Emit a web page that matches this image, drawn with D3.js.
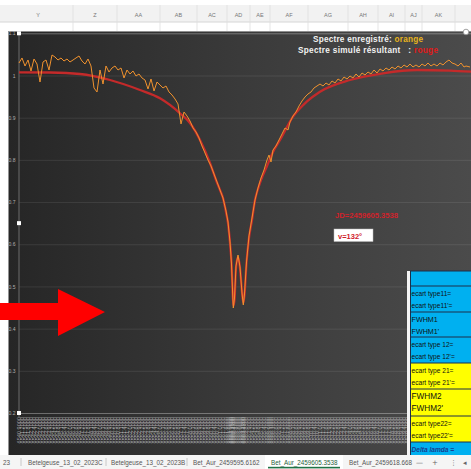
<!DOCTYPE html>
<html><head><meta charset="utf-8">
<script src="https://cdn.jsdelivr.net/npm/d3@7"></script>
<style>html,body{margin:0;padding:0;background:#fff;overflow:hidden}svg{display:block}text{white-space:pre}</style>
</head><body><svg id="c" width="471" height="469"></svg>
<script>
// Hα profile, Bet_Aur_2459605.3538 — recorded spectrum [wavelength Å, normalised flux]
const observed = [
[6540.9,1.0296],[6541.2,1.0415],[6541.5,1.0225],[6541.8,1.0367],[6542.1,1.0107],[6542.4,1.0391],[6542.7,1.0272],[6543.0,0.9846],
[6543.3,1.0320],[6543.6,1.0367],[6543.9,1.0130],[6544.2,1.0486],[6544.5,1.0438],[6544.8,1.0367],[6545.1,1.0415],[6545.4,1.0343],
[6545.7,1.0391],[6546.0,1.0320],[6546.3,1.0367],[6546.6,1.0415],[6546.9,1.0462],[6547.2,1.0343],[6547.5,1.0272],[6547.8,1.0391],
[6548.1,1.0225],[6548.4,0.9704],[6548.7,0.9609],[6549.0,1.0130],[6549.3,0.9798],[6549.6,1.0225],[6549.9,1.0083],[6550.2,1.0178],
[6550.5,1.0225],[6550.8,1.0130],[6551.1,1.0178],[6551.4,0.9941],[6551.7,1.0130],[6552.0,1.0035],[6552.3,1.0107],[6552.6,0.9988],
[6552.9,1.0035],[6553.2,0.9941],[6553.5,0.9893],[6553.8,0.9680],[6554.1,0.9917],[6554.4,0.9633],[6554.7,0.9846],[6555.0,0.9775],
[6555.3,0.9704],[6555.6,0.9751],[6555.9,0.9609],[6556.2,0.9538],[6556.5,0.9443],[6556.8,0.9325],[6557.1,0.8851],[6557.4,0.9135],
[6557.7,0.9040],[6558.0,0.8922],[6558.3,0.8756],[6558.6,0.8661],[6558.9,0.8519],[6559.2,0.8329],[6559.5,0.8163],[6559.8,0.7997],
[6560.1,0.7855],[6560.4,0.7665],[6560.7,0.7476],[6561.0,0.7286],[6561.3,0.7096],[6561.6,0.6788],[6561.8,0.6527],[6562.0,0.6054],
[6562.15,0.5532],[6562.25,0.4916],[6562.33,0.4489],[6562.45,0.4726],[6562.6,0.5485],[6562.8,0.5745],[6563.0,0.5461],[6563.2,0.4844],
[6563.33,0.4560],[6563.45,0.4821],[6563.65,0.5580],[6563.9,0.6196],[6564.2,0.6622],[6564.5,0.7049],[6564.8,0.7333],[6565.1,0.7570],
[6565.4,0.7760],[6565.7,0.7997],[6565.9,0.8115],[6566.1,0.7950],[6566.3,0.8234],[6566.6,0.8329],[6566.9,0.8471],[6567.2,0.8614],
[6567.5,0.8756],[6567.8,0.8708],[6568.0,0.8898],[6568.3,0.9040],[6568.6,0.9135],[6568.9,0.9277],[6569.2,0.9396],[6569.5,0.9490],
[6569.8,0.9562],[6570.1,0.9609],[6570.4,0.9704],[6570.7,0.9751],[6571.0,0.9798],[6571.3,0.9751],[6571.6,0.9822],[6571.9,0.9775],
[6572.2,0.9870],[6572.5,0.9822],[6572.8,0.9917],[6573.1,0.9870],[6573.4,0.9964],[6573.7,0.9917],[6574.0,0.9988],[6574.3,0.9941],
[6574.6,1.0035],[6574.9,0.9964],[6575.2,1.0059],[6575.5,1.0012],[6575.8,1.0083],[6576.1,1.0035],[6576.4,1.0130],[6576.7,1.0059],
[6577.0,1.0154],[6577.3,1.0107],[6577.6,1.0178],[6577.9,1.0130],[6578.2,1.0201],[6578.5,1.0154],[6578.8,1.0225],[6579.1,1.0178],
[6579.4,1.0249],[6579.7,1.0201],[6580.0,1.0272],[6580.3,1.0201],[6580.6,1.0249],[6580.9,1.0201],[6581.2,1.0272],[6581.5,1.0225],
[6581.8,1.0296],[6582.1,1.0225],[6582.4,1.0272],[6582.7,1.0225],[6583.0,1.0296],[6583.3,1.0249],[6583.6,1.0320],[6583.9,1.0367],
[6584.2,1.0296],[6584.5,1.0272],[6584.8,1.0225],[6585.1,1.0296],[6585.4,1.0201],[6585.6,1.0225],[6586.0,1.0201]
];

// resulting simulated spectrum (two-component fit)
const simulated = [
[6540.9,1.0076],[6544.0,1.0071],[6547.0,1.0035],[6550.0,0.9893],[6553.0,0.9656],[6555.0,0.9459],[6557.0,0.9104],[6558.0,0.8874],
[6559.0,0.8471],[6560.0,0.7926],[6560.6,0.7523],[6561.0,0.7286],[6561.3,0.7096],[6561.6,0.6764],[6561.8,0.6504],[6562.0,0.6030],
[6562.15,0.5556],[6562.25,0.4963],[6562.33,0.4536],[6562.45,0.4679],[6562.6,0.5437],[6562.8,0.5698],[6563.0,0.5437],[6563.2,0.4868],
[6563.33,0.4608],[6563.45,0.4797],[6563.65,0.5556],[6563.9,0.6149],[6564.2,0.6575],[6564.5,0.7049],[6564.8,0.7310],[6565.1,0.7523],
[6565.67,0.7838],[6566.3,0.8187],[6567.0,0.8471],[6568.3,0.9023],[6569.67,0.9379],[6571.0,0.9616],[6574.0,0.9893],[6577.3,1.0052],
[6580.7,1.0130],[6584.0,1.0114],[6586.1,1.0090]
];

const yTicks = [0.2,0.3,0.4,0.5,0.6,0.7,0.8,0.9,1.0,1.1];
const legendRecorded = ["Spectre enregistré: ", "orange"];
const legendSimulated = ["Spectre simulé résultant   : ", "rouge"];
const jdLabel = "JD=2459605.3538";
const velocityLabel = "v=132°";

const columnNames = ["Y","Z","AA","AB","AC","AD","AE","AF","AG","AH","AI","AJ","AK"];
const tableBlue1 = [["ecart type11=","ecart type11'="],["FWHM1","FWHM1'"],["ecart type 12=","ecart type 12'="]];
const tableYellow = [["ecart type 21=","ecart type 21'="],["FWHM2","FWHM2'"],["ecart type22=","ecart type22'="]];
const tableLast = "Delta lamda =";
const sheetTabs = ["23","Betelgeuse_13_02_2023C","Betelgeuse_13_02_2023B","Bet_Aur_2459595.6162","Bet_Aur_2459605.3538","Bet_Aur_2459618.668"];
const activeTab = "Bet_Aur_2459605.3538";

// ---- layout ----
const W = 471, H = 469;
const plot = {left: 19, right: 471, top: 33.3, bottom: 413};
const colEdges = [3,73,117,160,197,227,250,270,308,348,378,405,422,455,471];
const tabX = [3,28,111,193,271,349];

const svg = d3.select("#c");
const defs = svg.append("defs");
const grad = defs.append("linearGradient").attr("id","bg").attr("x1","0").attr("x2","1").attr("y1","0").attr("y2","0");
grad.append("stop").attr("offset","0").attr("stop-color","#262626");
grad.append("stop").attr("offset","0.5").attr("stop-color","#3a3a3a");
grad.append("stop").attr("offset","1").attr("stop-color","#4b4b4b");

svg.append("rect").attr("width",W).attr("height",H).attr("fill","#fff");

// spreadsheet column header
svg.append("rect").attr("x",0).attr("y",5).attr("width",W).attr("height",17).attr("fill","#f2f2f2");
svg.append("line").attr("x1",0).attr("x2",W).attr("y1",22).attr("y2",22).attr("stroke","#d6d6d6");
colEdges.slice(1,-1).forEach(e=>{
  svg.append("line").attr("x1",e).attr("x2",e).attr("y1",5).attr("y2",31).attr("stroke","#dedede").attr("stroke-width",0.8);
});
columnNames.forEach((n,i)=>{
  svg.append("text").attr("x",(colEdges[i]+colEdges[i+1])/2).attr("y",16.5).attr("text-anchor","middle")
    .attr("font-family","Liberation Sans, Arial, sans-serif").attr("font-size",5.5).attr("fill","#777").text(n);
});

// chart area
svg.append("rect").attr("x",8.5).attr("y",31).attr("width",W-8.5).attr("height",424).attr("fill","url(#bg)");
svg.append("line").attr("x1",8.5).attr("x2",W).attr("y1",31.5).attr("y2",31.5).attr("stroke","#8e8e8e").attr("stroke-width",1);

const x = d3.scaleLinear().domain([6540.9, 6586.1]).range([plot.left, plot.right]);
const y = d3.scaleLinear().domain([0.2, 1.1]).range([plot.bottom, plot.top]);

// gridlines + y labels
const yAxis = svg.append("g").attr("transform",`translate(${plot.left},0)`)
  .call(d3.axisLeft(y).tickValues(yTicks).tickSize(-(plot.right-plot.left)).tickPadding(3.5).tickFormat(d3.format("~g")));
yAxis.select(".domain").remove();
yAxis.selectAll(".tick line").attr("stroke","#ffffff").attr("stroke-opacity",d=>(d===0.2||d===1.1)?0.32:0.09).attr("stroke-width",1);
yAxis.selectAll(".tick text").attr("fill","#b0b0b0").attr("font-size",5).attr("font-family","Liberation Sans, Arial, sans-serif");

// vertical axis line
svg.append("line").attr("x1",plot.left).attr("x2",plot.left).attr("y1",plot.top).attr("y2",plot.bottom+4)
  .attr("stroke","#6c6c6c").attr("stroke-width",1);

// crowded category labels along the wavelength axis (the right end sits under the table)
svg.append("g").selectAll("text").data(observed.filter(d=>x(d[0])<=462)).join("text")
  .attr("transform",d=>`translate(${x(d[0])},417) rotate(-90)`)
  .attr("text-anchor","end").attr("dy","0.35em")
  .attr("font-family","Liberation Sans, Arial, sans-serif").attr("font-size",5.6)
  .attr("fill","#b4b4b4").attr("fill-opacity",0.9).text(d=>d[0].toFixed(4));

// spectra
const lineGen = d3.line().x(d=>x(d[0])).y(d=>y(d[1]));
svg.append("path").datum(simulated).attr("d",lineGen.curve(d3.curveMonotoneX))
  .attr("fill","none").attr("stroke","#c42a2a").attr("stroke-width",2.3).attr("stroke-linejoin","round");
svg.append("path").datum(observed).attr("d",d3.line().x(d=>x(d[0])).y(d=>y(d[1])))
  .attr("fill","none").attr("stroke","#f0922e").attr("stroke-width",1).attr("stroke-linejoin","round");

// selection handles on the plot area
[plot.top, (plot.top+plot.bottom)/2, plot.bottom].forEach(v=>{
  svg.append("rect").attr("x",plot.left-2).attr("y",v-2).attr("width",4).attr("height",4).attr("fill","#fff");
});
svg.append("circle").attr("cx",466).attr("cy",32).attr("r",2.8).attr("fill","#fff").attr("stroke","#8a8a8a").attr("stroke-width",0.8);

// legend
const lf = "Liberation Sans, Arial, sans-serif";
const l1 = svg.append("text").attr("x",313).attr("y",42).attr("font-family",lf).attr("font-weight","bold")
  .attr("font-size",8.2).attr("textLength",110).attr("lengthAdjust","spacing");
l1.append("tspan").attr("fill","#f2f2f2").text(legendRecorded[0]);
l1.append("tspan").attr("fill","#e8b41c").text(legendRecorded[1]);
const l2 = svg.append("text").attr("x",298).attr("y",52.5).attr("font-family",lf).attr("font-weight","bold")
  .attr("font-size",8.2).attr("textLength",140).attr("lengthAdjust","spacing");
l2.append("tspan").attr("fill","#f2f2f2").text(legendSimulated[0]);
l2.append("tspan").attr("fill","#e01818").text(legendSimulated[1]);

// JD and velocity annotations
svg.append("text").attr("x",335).attr("y",218).attr("font-family",lf).attr("font-size",7).attr("font-weight","bold")
  .attr("textLength",63).attr("lengthAdjust","spacingAndGlyphs").attr("fill","#d0222b").text(jdLabel);
svg.append("rect").attr("x",334).attr("y",229).attr("width",39).attr("height",12.5).attr("fill","#fff").attr("stroke","#bbb").attr("stroke-width",0.5);
svg.append("text").attr("x",338).attr("y",238.5).attr("font-family",lf).attr("font-weight","bold").attr("font-size",7.5)
  .attr("fill","#d0202a").text(velocityLabel);

// red pointer arrow
svg.append("path").attr("d","M0,303 L58,303 L58,289 L105,312 L58,336 L58,320 L0,320 Z").attr("fill","#ff0000");

// result table
svg.append("rect").attr("x",407).attr("y",271).attr("width",3).attr("height",184).attr("fill","#f4f4f4");
const tx = 410;
const blue = "#00b0f0", yellow = "#ffff00", rule = "#1c2f4a";
svg.append("rect").attr("x",tx).attr("y",271).attr("width",W-tx).attr("height",92).attr("fill",blue);
svg.append("rect").attr("x",tx).attr("y",363).attr("width",W-tx).attr("height",79).attr("fill",yellow);
svg.append("rect").attr("x",tx).attr("y",442).attr("width",W-tx).attr("height",13).attr("fill",blue);
[271,286,312,337,363,389,416,442].forEach(v=>{
  svg.append("line").attr("x1",tx).attr("x2",W).attr("y1",v).attr("y2",v).attr("stroke",rule).attr("stroke-width",1);
});
svg.append("line").attr("x1",tx+0.5).attr("x2",tx+0.5).attr("y1",271).attr("y2",455).attr("stroke",rule).attr("stroke-width",1);
const rowsTop = [286,312,337,363,389,416];
tableBlue1.concat(tableYellow).forEach((pair,i)=>{
  const top = rowsTop[i];
  const big = pair[0].startsWith("FWHM");
  const fs = big ? (i===4 ? 8.2 : 7.2) : 6.6;
  pair.forEach((t,j)=>{
    svg.append("text").attr("x",tx+1.5).attr("y",top+9.5+j*12).attr("font-family",lf).attr("font-size",fs)
      .attr("fill","#111").text(t);
  });
});
svg.append("text").attr("x",tx+1.5).attr("y",452).attr("font-family",lf).attr("font-size",6.6).attr("font-style","italic")
  .attr("font-weight","bold").attr("fill","#1a3d8f").text(tableLast);

// sheet tabs
svg.append("rect").attr("x",0).attr("y",455).attr("width",W).attr("height",14).attr("fill","#f5f5f5");
svg.append("rect").attr("x",265).attr("y",455).attr("width",78).attr("height",14).attr("fill","#fff");
svg.append("rect").attr("x",268).attr("y",466.8).attr("width",72).attr("height",1.6).attr("fill","#217346");
sheetTabs.forEach((t,i)=>{
  svg.append("text").attr("x",tabX[i]).attr("y",464.5).attr("font-family",lf).attr("font-size",6.3)
    .attr("fill",t===activeTab?"#1f5f3a":"#555").text(t);
});
[21,106,187].forEach(s=>svg.append("line").attr("x1",s).attr("x2",s).attr("y1",458).attr("y2",466).attr("stroke","#c8c8c8"));
[["—",416],["+",432],["⋮",450],["◂",463]].forEach(([g,px])=>{
  svg.append("text").attr("x",px).attr("y",465).attr("font-family","DejaVu Sans, sans-serif").attr("font-size",7).attr("fill","#666").text(g);
});
</script></body></html>
